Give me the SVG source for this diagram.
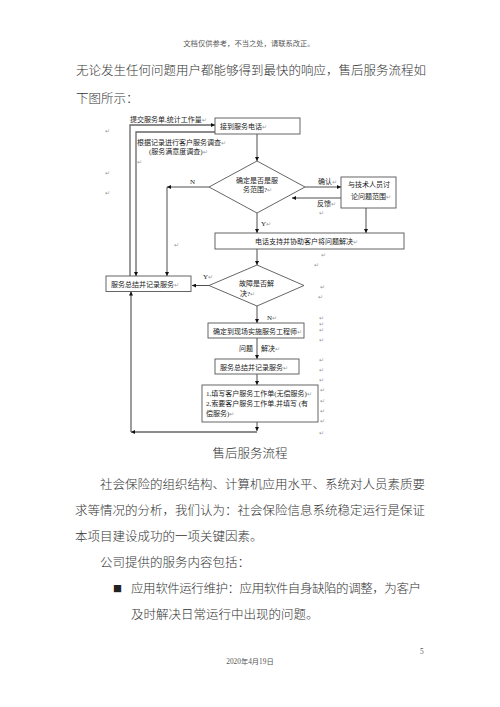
<svg xmlns="http://www.w3.org/2000/svg" width="500" height="707" viewBox="0 0 500 707">
<style>
.bg{fill:#fff}
.body{font-family:"Noto Sans CJK SC","Noto Sans",sans-serif;font-size:12.5px;font-weight:300;fill:#333}
.hdr{font-family:"Liberation Serif","Noto Sans CJK SC",serif;font-size:7.3px;fill:#555}
.lbl{font-family:"Liberation Serif","Noto Sans CJK SC",serif;font-size:7px;fill:#222}
.ret{font-family:"DejaVu Sans",sans-serif;font-size:6px;fill:#999}
.box{fill:#fff;stroke:#555;stroke-width:0.9}
.con{fill:none;stroke:#222;stroke-width:0.8}
.loop{fill:none;stroke:#666;stroke-width:1.3}
</style>
<defs>
<marker id="a" viewBox="0 0 10 10" refX="10" refY="5" markerWidth="5" markerHeight="4" orient="auto" markerUnits="userSpaceOnUse">
<path d="M0,0 L10,5 L0,10 z" fill="#111"/>
</marker>
</defs>
<rect class="bg" x="0" y="0" width="500" height="707"/>

<text class="hdr" x="249" y="46" text-anchor="middle">文档仅供参考，不当之处，请联系改正。</text>
<text class="body" x="76" y="75">无论发生任何问题用户都能够得到最快的响应，售后服务流程如</text>
<text class="body" x="76" y="103">下图所示：</text>

<g id="connectors">
<path class="con" d="M257,134 V161" marker-end="url(#a)"/>
<path class="con" d="M257,213 V233" marker-end="url(#a)"/>
<path class="con" d="M305,187 H341" marker-end="url(#a)"/>
<path class="con" d="M341,198 H292" marker-end="url(#a)"/>
<path class="con" d="M366,208 V233" marker-end="url(#a)"/>
<path class="con" d="M257,249 V265" marker-end="url(#a)"/>
<path class="con" d="M209,285.5 H192" marker-end="url(#a)"/>
<path class="con" d="M257,306 V323" marker-end="url(#a)"/>
<path class="con" d="M257,338 V359" marker-end="url(#a)"/>
<path class="con" d="M257,374 V385" marker-end="url(#a)"/>
<path class="con" d="M257,422 V431" marker-end="url(#a)"/>
<path class="loop" d="M257,432 H131" marker-end="url(#a)"/>
<path class="loop" d="M131,432 V291.5" marker-end="url(#a)"/>
<path class="con" d="M209,187 H167" marker-end="url(#a)"/>
<path class="con" d="M167,187 V276" marker-end="url(#a)"/>
<path class="loop" d="M130,276 V125 H215" marker-end="url(#a)"/>
<path class="loop" d="M215,132 H136 V276" marker-end="url(#a)"/>
</g>

<g id="n-receive">
<rect class="box" x="215" y="118" width="85" height="16"/>
<text class="lbl" x="220" y="129">接到服务电话<tspan class="ret">↵</tspan></text>
</g>
<g id="lbl-submit">
<text class="lbl" x="130" y="122">提交服务单,统计工作量<tspan class="ret">↵</tspan></text>
</g>
<g id="lbl-survey">
<text class="lbl" x="137" y="145">根据记录进行客户服务调查<tspan class="ret">↵</tspan></text>
<text class="lbl" x="149" y="154">(服务满意度调查)<tspan class="ret">↵</tspan></text>
</g>
<g id="n-scope">
<polygon class="box" points="257,161 305,187 257,213 209,187"/>
<text class="lbl" x="257" y="183" text-anchor="middle">确定是否是服</text>
<text class="lbl" x="243" y="192">务范围?<tspan class="ret">↵</tspan></text>
<text class="lbl" x="190" y="184">N</text>
<text class="lbl" x="318" y="184">确认<tspan class="ret">↵</tspan></text>
<text class="lbl" x="317" y="206">反馈<tspan class="ret">↵</tspan></text>
<text class="lbl" x="261" y="226">Y<tspan class="ret">↵</tspan></text>
</g>
<g id="n-tech">
<rect class="box" x="341" y="177" width="55" height="31"/>
<text class="lbl" x="348" y="187">与技术人员讨</text>
<text class="lbl" x="351" y="199">论问题范围<tspan class="ret">↵</tspan></text>
</g>
<g id="n-phone">
<rect class="box" x="215" y="233" width="189" height="16"/>
<text class="lbl" x="255" y="244">电话支持并协助客户将问题解决<tspan class="ret">↵</tspan></text>
</g>
<g id="n-solved">
<polygon class="box" points="257,265 304,285.5 257,306 209,285.5"/>
<text class="lbl" x="239" y="285.5">故障是否解</text>
<text class="lbl" x="240" y="295.5">决?<tspan class="ret">↵</tspan></text>
<text class="lbl" x="203" y="279">Y<tspan class="ret">↵</tspan></text>
<text class="lbl" x="267" y="320">N<tspan class="ret">↵</tspan></text>
</g>
<g id="n-summary-left">
<rect class="box" x="106" y="276" width="85" height="15.5"/>
<text class="lbl" x="111" y="286.5">服务总结并记录服务<tspan class="ret">↵</tspan></text>
</g>
<g id="n-onsite">
<rect class="box" x="208" y="323" width="96" height="15"/>
<text class="lbl" x="213" y="333.5">确定到现场实施服务工程师<tspan class="ret">↵</tspan></text>
<text class="lbl" x="239" y="351">问题</text>
<text class="lbl" x="261" y="351">解决<tspan class="ret">↵</tspan></text>
</g>
<g id="n-summary">
<rect class="box" x="215" y="359" width="84" height="15"/>
<text class="lbl" x="220" y="369.5">服务总结并记录服务<tspan class="ret">↵</tspan></text>
</g>
<g id="n-form">
<rect class="box" x="202" y="385" width="116" height="37"/>
<text class="lbl" x="206" y="395.5">1,填写客户服务工作单(无偿服务)<tspan class="ret">↵</tspan></text>
<text class="lbl" x="206" y="405.5">2,索要客户服务工作单,并填写 (有</text>
<text class="lbl" x="206" y="416">偿服务)<tspan class="ret">↵</tspan></text>
</g>

<g id="returns" class="ret">
<text x="105" y="133">↵</text>
<text x="105" y="175">↵</text>
<text x="105" y="195">↵</text>
<text x="137" y="164">↵</text>
<text x="174" y="247">↵</text>
<text x="319" y="215">↵</text>
<text x="321" y="257">↵</text>
<text x="314" y="267">↵</text>
<text x="320" y="289">↵</text>
<text x="318" y="299">↵</text>
<text x="319" y="320">↵</text>
<text x="319" y="326">↵</text>
<text x="319" y="332">↵</text>
<text x="319" y="342">↵</text>
<text x="319" y="362">↵</text>
<text x="319" y="372">↵</text>
<text x="319" y="382">↵</text>
<text x="320" y="392">↵</text>
<text x="320" y="403">↵</text>
<text x="320" y="413">↵</text>
<text x="320" y="423">↵</text>
<text x="319" y="435">↵</text>
</g>

<text class="body" x="250" y="458" text-anchor="middle">售后服务流程</text>
<text class="body" x="100" y="489">社会保险的组织结构、计算机应用水平、系统对人员素质要</text>
<text class="body" x="75" y="515">求等情况的分析，我们认为：社会保险信息系统稳定运行是保证</text>
<text class="body" x="75" y="541">本项目建设成功的一项关键因素。</text>
<text class="body" x="100" y="567">公司提供的服务内容包括：</text>
<text class="body" x="113" y="592" style="font-size:9px;font-weight:400;fill:#222">■</text>
<text class="body" x="131" y="593" textLength="290">应用软件运行维护：应用软件自身缺陷的调整，为客户</text>
<text class="body" x="131" y="619">及时解决日常运行中出现的问题。</text>
<text class="hdr" x="420" y="654">5</text>
<text class="hdr" x="250" y="664" text-anchor="middle">2020年4月19日</text>
</svg>
